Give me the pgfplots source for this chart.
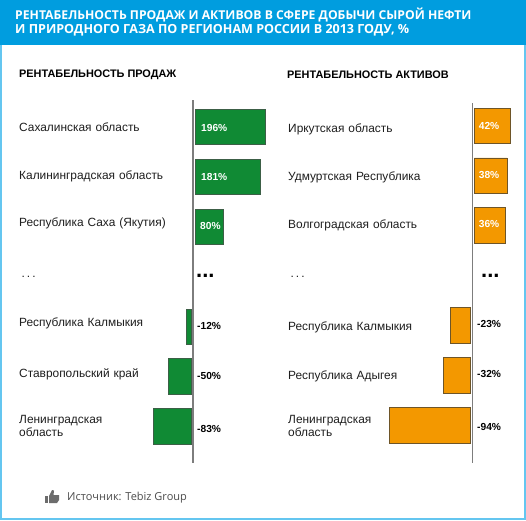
\documentclass[border=0pt]{standalone}
\usepackage{fontspec}
\usepackage{pgfplots}
\pgfplotsset{compat=1.18}
\setmainfont{Liberation Sans}
\newfontfamily\titlefont{Open Sans}
\newfontfamily\srcfont{Open Sans}
\definecolor{hdr}{RGB}{0,157,223}
\definecolor{edge}{RGB}{100,198,240}
\definecolor{grn}{RGB}{16,138,52}
\definecolor{org}{RGB}{243,152,0}
\definecolor{grnedge}{RGB}{60,95,70}
\definecolor{orgedge}{RGB}{110,85,40}
\definecolor{axisgray}{RGB}{125,125,125}
\definecolor{lbl}{RGB}{30,30,30}
\pgfplotsset{panel/.style={
  scale only axis, clip=false, y dir=reverse, ymin=100, ymax=463,
  height=363pt, axis line style={draw=none}, xtick=\empty,
  major tick length=0pt, y tick style={draw=none},
  axis on top=false},
  labels/.style={
  yticklabel style={anchor=west, inner sep=0pt, xshift=#1, text width=168pt, align=left,
    font=\fontsize{11.9}{13.5}\selectfont, text=lbl}},
  noticks/.style={ytick=\empty},
  barstyle/.style={xbar, bar width=35.5pt, bar shift=0pt, fill=#1, line width=0.9pt, forget plot},
  valscolor/.style={draw=none, mark=none, forget plot, point meta=explicit symbolic,
    nodes near coords={\pgfplotspointmeta\%},
    nodes near coords style={anchor=west, inner sep=0pt, font=\fontsize{10.2}{12}\selectfont\bfseries, text=#1}}}
\begin{document}
\begin{tikzpicture}
\useasboundingbox (0pt,0pt) rectangle (526pt,-520pt);
\fill[white] (0pt,0pt) rectangle (526pt,-520pt);
\draw[edge, line width=2pt] (1pt,-1pt) rectangle (525pt,-518.5pt);
\fill[hdr] (0pt,0pt) rectangle (526pt,-45pt);
\node[anchor=west, inner sep=0pt, text=white] at (15pt,-14.5pt) {\titlefont\fontsize{12.2}{14}\selectfont\bfseries РЕНТАБЕЛЬНОСТЬ ПРОДАЖ И АКТИВОВ В СФЕРЕ ДОБЫЧИ СЫРОЙ НЕФТИ};
\node[anchor=west, inner sep=0pt, text=white] at (15pt,-30pt) {\titlefont\fontsize{12.55}{14}\selectfont\bfseries И ПРИРОДНОГО ГАЗА ПО РЕГИОНАМ РОССИИ В 2013 ГОДУ, \%};
\node[anchor=west, inner sep=0pt] at (19pt,-74.5pt) {\fontsize{10.9}{13}\selectfont\bfseries РЕНТАБЕЛЬНОСТЬ ПРОДАЖ};
\node[anchor=west, inner sep=0pt] at (287pt,-74.5pt) {\fontsize{10.9}{13}\selectfont\bfseries РЕНТАБЕЛЬНОСТЬ АКТИВОВ};
% left, positive
\begin{axis}[panel, at={(195pt,-100pt)}, anchor=north west, width=75pt, xmin=0, xmax=208.3,
  labels=-176pt,
  ytick={127,176,223,277,323,374,426},
  yticklabels={Сахалинская область,Калининградская область,Республика Саха (Якутия),{\hspace*{2.5pt}.\,.\,.},Республика Калмыкия,Ставропольский край,{Ленинградская\\область}}]
\addplot[barstyle=grn, draw=grnedge] table[x=v,y=y]{
v y
196 127
181 177
80 227
};
\addplot[valscolor=white] table[x=lx,y=y,meta=v]{
v y lx
196 128 16.7
181 177 16.7
80 226 14
};
\end{axis}
% left, negative
\begin{axis}[panel, at={(191.7pt,-100pt)}, anchor=north east, width=50pt, xmin=-108.7, xmax=0, noticks]
\addplot[barstyle=grn, draw=grnedge] table[x=v,y=y]{
v y
-12 327
-50 376.3
-83 426.5
};
\addplot[valscolor=black] table[x=lx,y=y,meta=v]{
v y lx
-12 325.7 11.5
-50 376 11.5
-83 429 11.5
};
\end{axis}
% right, positive
\begin{axis}[panel, at={(474.3pt,-100pt)}, anchor=north west, width=40pt, xmin=0, xmax=46.2,
  labels=-186.3pt,
  ytick={129,177,225,277,327,376,426},
  yticklabels={Иркутская область,Удмуртская Республика,Волгоградская область,{\hspace*{2.5pt}.\,.\,.},Республика Калмыкия,Республика Адыгея,{Ленинградская\\область}}]
\addplot[barstyle=org, draw=orgedge] table[x=v,y=y]{
v y
42 126
38 175.7
36 225.3
};
\addplot[valscolor=white] table[x=lx,y=y,meta=v]{
v y lx
42 126 5
38 175 5
36 224 5
};
\end{axis}
% right, negative
\begin{axis}[panel, at={(470.7pt,-100pt)}, anchor=north east, width=85pt, xmin=-98.2, xmax=0, noticks]
\addplot[barstyle=org, draw=orgedge] table[x=v,y=y]{
v y
-23 325.3
-32 375.3
-94 425.3
};
\addplot[valscolor=black] table[x=lx,y=y,meta=v]{
v y lx
-23 324 7.3
-32 374 7.3
-94 427 7.3
};
\end{axis}
% axis lines
\draw[axisgray, line width=1.2pt] (193pt,-100pt) -- (193pt,-463pt);
\draw[axisgray, line width=1.2pt] (472.3pt,-103pt) -- (472.3pt,-463pt);
% ellipses
\node[anchor=base west, inner sep=0pt] at (196pt,-277.5pt) {\fontsize{22}{24}\selectfont\bfseries ...};
\node[anchor=base west, inner sep=0pt] at (481pt,-277.5pt) {\fontsize{22}{24}\selectfont\bfseries ...};
% source
\fill[gray!85!black] (45pt,-496pt) rectangle (48pt,-503pt);
\fill[gray!85!black] (49pt,-496pt) -- (52pt,-490pt) -- (54pt,-490.5pt) -- (53.5pt,-495pt) -- (59pt,-495pt) -- (59pt,-500pt) -- (57pt,-503pt) -- (49pt,-503pt) -- cycle;
\node[anchor=west, inner sep=0pt, text=black!70] at (67pt,-498pt) {\srcfont\fontsize{11}{13}\selectfont Источник: Tebiz Group};
\end{tikzpicture}
\end{document}
